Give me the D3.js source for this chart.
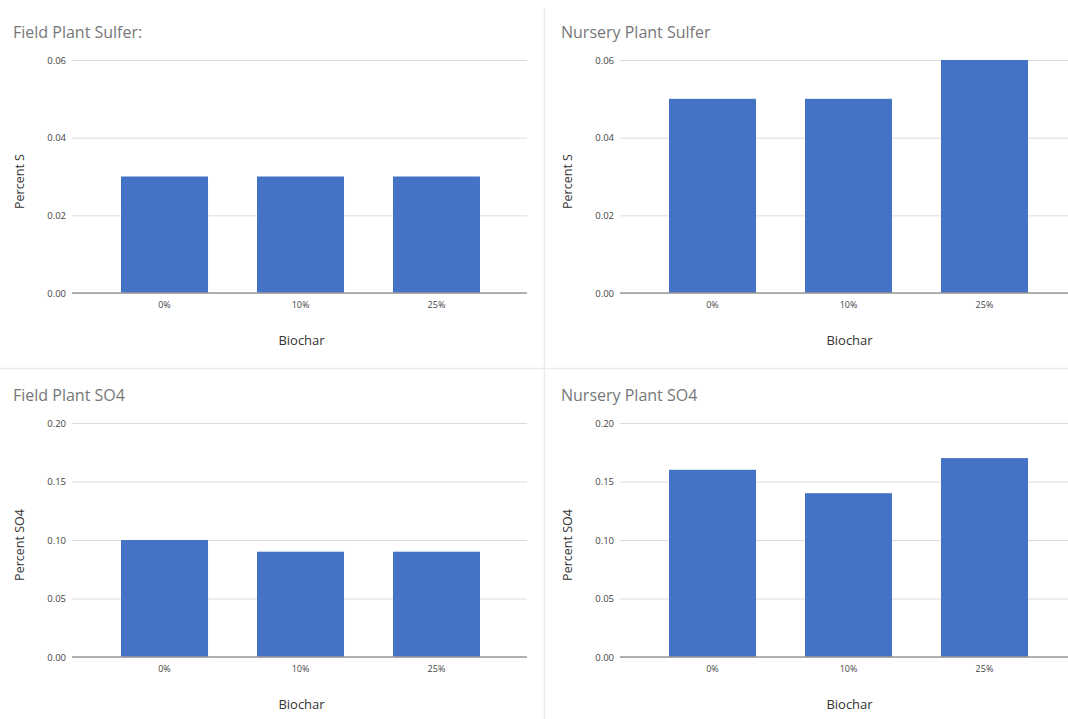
<!DOCTYPE html>
<html>
<head>
<meta charset="utf-8">
<script src="https://cdn.jsdelivr.net/npm/d3@7"></script>
<style>
  html, body { margin: 0; padding: 0; background: #fff; }
  svg { display: block; font-family: "Open Sans", "Liberation Sans", sans-serif; }
</style>
</head>
<body>
<svg id="chart" width="1068" height="719"></svg>
<script>
// Biochar treatment levels shared by all four panels
const categories = ["0%", "10%", "25%"];

// Measured values per panel
const fieldSulfur = [0.03, 0.03, 0.03];
const nurserySulfur = [0.05, 0.05, 0.06];
const fieldSO4 = [0.10, 0.09, 0.09];
const nurserySO4 = [0.16, 0.14, 0.17];

// Axis ticks
const sulfurTicks = [0, 0.02, 0.04, 0.06];
const so4Ticks = [0, 0.05, 0.10, 0.15, 0.20];

const panels = [
  { title: "Field Plant Sulfer:", yTitle: "Percent S", values: fieldSulfur, ticks: sulfurTicks, dx: 0 },
  { title: "Nursery Plant Sulfer", yTitle: "Percent S", values: nurserySulfur, ticks: sulfurTicks, dx: 548 },
  { title: "Field Plant SO4", yTitle: "Percent SO4", values: fieldSO4, ticks: so4Ticks, dx: 0, lower: true },
  { title: "Nursery Plant SO4", yTitle: "Percent SO4", values: nurserySO4, ticks: so4Ticks, dx: 548, lower: true }
];

const svg = d3.select("#chart");

// Panel separators
svg.append("line").attr("x1", 0).attr("x2", 1068).attr("y1", 368.5).attr("y2", 368.5)
  .attr("stroke", "#ebebeb").attr("stroke-width", 1.5);
svg.append("line").attr("x1", 544.5).attr("x2", 544.5).attr("y1", 8).attr("y2", 719)
  .attr("stroke", "#ebebeb").attr("stroke-width", 1.5);

const fmt = d3.format(".2f");

panels.forEach(p => {
  const left = 72 + p.dx, right = 527 + p.dx;
  const top = p.lower ? 423 : 60;
  const bottom = p.lower ? 657 : 293;
  const titleY = p.lower ? 401 : 38;

  const x = d3.scaleBand().domain(categories).range([left + 1, right + 1])
    .paddingInner(0.36).paddingOuter(0.353);
  const y = d3.scaleLinear().domain([0, d3.max(p.ticks)]).range([bottom, top]);

  const g = svg.append("g");

  // Title
  g.append("text").attr("x", 13 + p.dx).attr("y", titleY)
    .attr("font-size", 16).attr("fill", "#777").text(p.title);

  // Gridlines and y tick labels
  const yAxis = d3.axisLeft(y).tickValues(p.ticks).tickFormat(fmt)
    .tickSize(-(right - left)).tickPadding(6);
  const ya = g.append("g").attr("transform", `translate(${left},0)`).call(yAxis);
  ya.select(".domain").remove();
  ya.selectAll(".tick line").attr("stroke", "#dcdcdc").attr("stroke-width", 1);
  ya.selectAll(".tick text").attr("font-size", 9.5).attr("fill", "#444")
    .attr("font-family", "'Open Sans', sans-serif");

  // Bars
  g.selectAll("rect.bar").data(p.values).join("rect")
    .attr("class", "bar")
    .attr("x", (d, i) => x(categories[i]))
    .attr("width", x.bandwidth())
    .attr("y", d => y(d))
    .attr("height", d => bottom - y(d))
    .attr("fill", "#4472c4");

  // Baseline and category labels
  const xAxis = d3.axisBottom(x).tickSize(0).tickPadding(9);
  const xa = g.append("g").attr("transform", `translate(0,${bottom})`).call(xAxis);
  xa.select(".domain").attr("stroke", "#9a9a9a").attr("stroke-width", 1.3)
    .attr("d", `M${left},0H${right}`);
  xa.selectAll(".tick text").attr("font-size", 9).attr("fill", "#444")
    .attr("font-family", "'Open Sans', sans-serif");

  // Axis titles
  g.append("text").attr("x", (left + right) / 2 + 2).attr("y", bottom + 52)
    .attr("text-anchor", "middle").attr("font-size", 13).attr("fill", "#333")
    .text("Biochar");
  g.append("text")
    .attr("transform", `translate(${24 + p.dx},${(top + bottom) / 2 + 5}) rotate(-90)`)
    .attr("text-anchor", "middle").attr("font-size", 12.5).attr("fill", "#333")
    .text(p.yTitle);
});
</script>
</body>
</html>
